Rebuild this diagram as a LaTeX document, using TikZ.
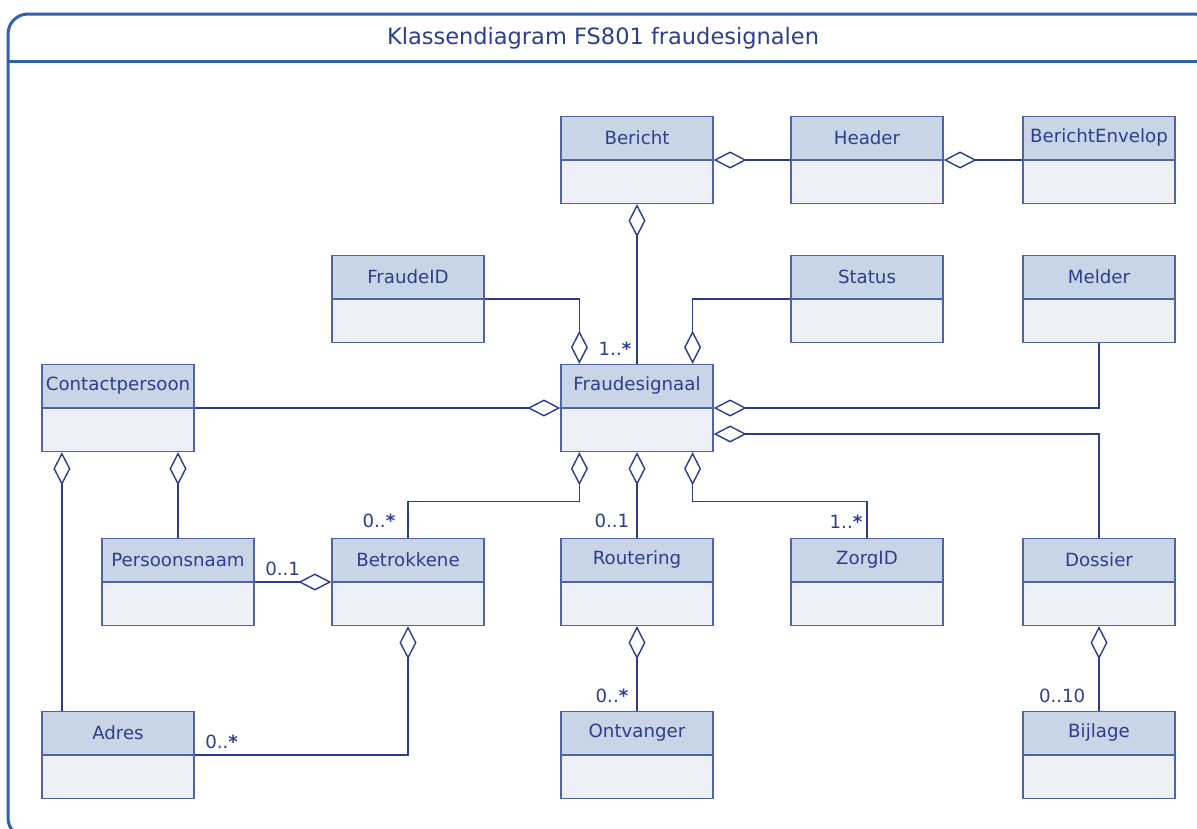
\documentclass[tikz,border=0pt]{standalone}
\usepackage{fontspec}
\setmainfont{DejaVu Sans}
\usepackage{tikz}
\usetikzlibrary{positioning,arrows.meta}
\definecolor{tekst}{HTML}{2C3E8C}
\definecolor{lijnkleur}{HTML}{2B3C8E}
\definecolor{boxrand}{HTML}{4F63A8}
\definecolor{boxkop}{HTML}{C8D5E6}
\definecolor{boxromp}{HTML}{EDF0F6}
\definecolor{kader}{HTML}{2F62AD}

\begin{document}
\begin{tikzpicture}[x=1pt,y=-1pt,
    font=\fontsize{18.2}{21}\selectfont,
    >={Diamond[open,length=33pt,width=17pt]},
    kop/.style={draw=boxrand,fill=boxkop,line width=1.2pt,text=tekst,minimum width=152pt,minimum height=43pt,inner sep=0pt,anchor=south},
    romp/.style={draw=boxrand,fill=boxromp,line width=1.2pt,minimum width=152pt,minimum height=43pt,inner sep=0pt},
    lijn/.style={lijnkleur,line width=1.4pt},
    mult/.style={text=tekst,inner sep=4pt}]
  \useasboundingbox (0,0) rectangle (1197,828);
  % kader met titel
  \draw[kader,line width=3pt,rounded corners=20pt] (8,14) rectangle (1214,838);
  \draw[kader,line width=3pt] (8,61) -- (1214,61);
  \node[text=tekst,font=\fontsize{22.5}{26}\selectfont] (titel) at (603,38) {Klassendiagram FS801 fraudesignalen};

  % klassen
  \node[kop] (bericht) at (637,160) {Bericht};
  \node[romp,below=0pt of bericht] (bericht-b) {};
  \node[kop] (header) at (867,160) {Header};
  \node[romp,below=0pt of header] (header-b) {};
  \node[kop] (envelop) at (1099,160) {BerichtEnvelop};
  \node[romp,below=0pt of envelop] (envelop-b) {};
  \node[kop] (fraudeid) at (408,299) {FraudeID};
  \node[romp,below=0pt of fraudeid] (fraudeid-b) {};
  \node[kop] (status) at (867,299) {Status};
  \node[romp,below=0pt of status] (status-b) {};
  \node[kop] (melder) at (1099,299) {Melder};
  \node[romp,below=0pt of melder] (melder-b) {};
  \node[kop] (contact) at (118,408) {Contactpersoon};
  \node[romp,below=0pt of contact] (contact-b) {};
  \node[kop] (signaal) at (637,408) {Fraudesignaal};
  \node[romp,below=0pt of signaal] (signaal-b) {};
  \node[kop] (persoon) at (178,582) {Persoonsnaam};
  \node[romp,below=0pt of persoon] (persoon-b) {};
  \node[kop] (betrokkene) at (408,582) {Betrokkene};
  \node[romp,below=0pt of betrokkene] (betrokkene-b) {};
  \node[kop] (routering) at (637,582) {Routering};
  \node[romp,below=0pt of routering] (routering-b) {};
  \node[kop] (zorgid) at (867,582) {ZorgID};
  \node[romp,below=0pt of zorgid] (zorgid-b) {};
  \node[kop] (dossier) at (1099,582) {Dossier};
  \node[romp,below=0pt of dossier] (dossier-b) {};
  \node[kop] (adres) at (118,755) {Adres};
  \node[romp,below=0pt of adres] (adres-b) {};
  \node[kop] (ontvanger) at (637,755) {Ontvanger};
  \node[romp,below=0pt of ontvanger] (ontvanger-b) {};
  \node[kop] (bijlage) at (1099,755) {Bijlage};
  \node[romp,below=0pt of bijlage] (bijlage-b) {};

  % aggregaties
  \path[lijn,<-]
    (bericht-b.north east) edge (header-b.north west)
    (header-b.north east) edge (envelop-b.north west)
    (signaal-b.north west) edge (contact-b.north east);
  \draw[lijn,<-] (bericht-b.south) -- node[mult,pos=1,anchor=south east,yshift=4pt,xshift=-1pt] {1..\textbf{*}} (signaal.north);
  \draw[lijn,<-] ([xshift=19pt]signaal.north west) |- (fraudeid-b.north east);
  \draw[lijn,<-] ([xshift=-21pt]signaal.north east) |- (status-b.north west);
  \draw[lijn,<-] (signaal-b.north east) -| (melder-b.south);
  \draw[lijn,<-] ([yshift=-26pt]signaal-b.north east) -| (dossier.north);
  \draw[lijn,<-] ([xshift=19pt]signaal-b.south west) -- ++(0,49) -| node[mult,pos=1,anchor=south east,yshift=5pt,xshift=-8pt] {0..\textbf{*}} (betrokkene.north);
  \draw[lijn,<-] (signaal-b.south) -- node[mult,pos=1,anchor=south east,yshift=5pt,xshift=-3pt] {0..1} (routering.north);
  \draw[lijn,<-] ([xshift=-21pt]signaal-b.south east) -- ++(0,49) -| node[mult,pos=1,anchor=south east,yshift=5pt] {1..\textbf{*}} (zorgid.north);
  \draw[lijn,<-] ([xshift=20.5pt]contact-b.south west) -- ([xshift=20.5pt]adres.north west);
  \draw[lijn,<-] (contact-b.south -| persoon.north) -- (persoon.north);
  \draw[lijn,<-] (betrokkene-b.north west) -- node[mult,pos=1,anchor=south west,xshift=6pt,yshift=2pt] {0..1} (persoon-b.north east);
  \draw[lijn,<-] (betrokkene-b.south) |- node[mult,pos=1,anchor=south west,xshift=6pt,yshift=2pt] {0..\textbf{*}} (adres-b.north east);
  \draw[lijn,<-] (routering-b.south) -- node[mult,pos=1,anchor=south east,yshift=3pt,xshift=-4pt] {0..\textbf{*}} (ontvanger.north);
  \draw[lijn,<-] (dossier-b.south) -- node[mult,pos=1,anchor=south east,yshift=3pt,xshift=-9pt] {0..10} (bijlage.north);
\end{tikzpicture}
\end{document}
